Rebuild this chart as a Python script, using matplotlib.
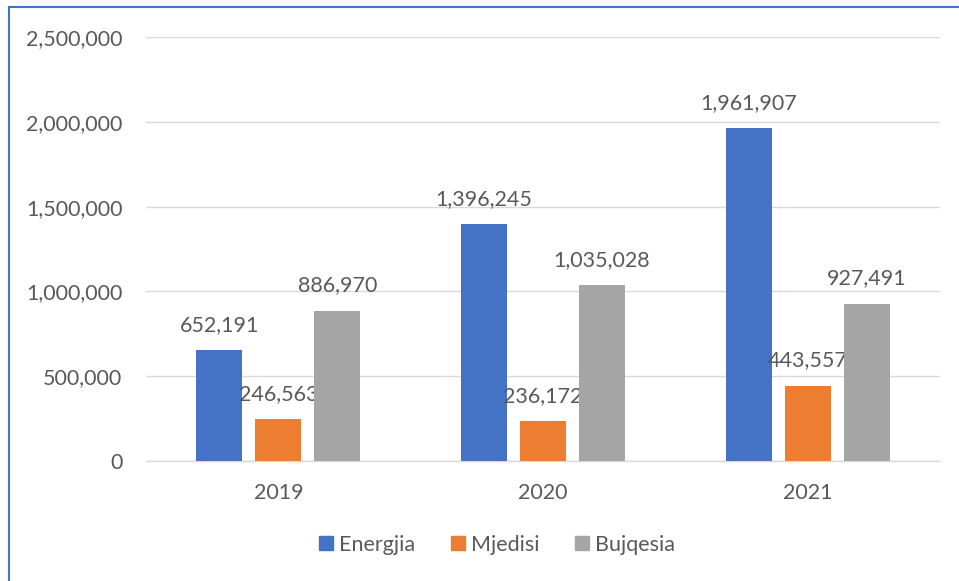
import matplotlib.pyplot as plt
import matplotlib.ticker as mticker
from matplotlib.lines import Line2D
import numpy as np

years = ["2019", "2020", "2021"]
series_names = ["Energjia", "Mjedisi", "Bujqesia"]
energjia = [652191, 1396245, 1961907]
mjedisi = [246563, 236172, 443557]
bujqesia = [886970, 1035028, 927491]
colors = ["#4472C4", "#ED7D31", "#A5A5A5"]

plt.rcParams['font.family'] = ['Lato', 'DejaVu Sans']
text_color = "#595959"

fig = plt.figure(figsize=(9.59, 5.81), dpi=100)
ax = fig.add_axes([146 / 959, 1 - 461 / 581, (940 - 146) / 959, (461 - 37) / 581])

x = np.arange(len(years))
width = 0.174
step = 0.223
for i, (name, vals) in enumerate(zip(series_names, [energjia, mjedisi, bujqesia])):
    pos = x + (i - 1) * step
    bars = ax.bar(pos, vals, width, color=colors[i], label=name, zorder=3)
    for b, v in zip(bars, vals):
        ax.annotate(f"{v:,}", (b.get_x() + b.get_width() / 2, v),
                    xytext=(0, 11), textcoords="offset points",
                    ha="center", va="bottom", fontsize=15.5, color=text_color)

ax.set_xlim(-0.5, 2.5)
ax.set_ylim(0, 2500000)
ax.set_yticks(np.arange(0, 2500001, 500000))
ax.yaxis.set_major_formatter(mticker.FuncFormatter(lambda v, p: f"{int(v):,}"))
ax.set_xticks(x)
ax.set_xticklabels(years)
ax.grid(axis="y", color="#D9D9D9", linewidth=1, zorder=0)
for s in ["top", "right", "left"]:
    ax.spines[s].set_visible(False)
ax.spines["bottom"].set_color("#D9D9D9")
ax.spines["bottom"].set_linewidth(1)
ax.tick_params(axis="both", length=0, labelsize=15.5, labelcolor=text_color)
ax.tick_params(axis="y", pad=17)
ax.tick_params(axis="x", pad=16)

handles = [Line2D([], [], marker="s", linestyle="none", markersize=10,
                  markerfacecolor=c, markeredgecolor=c) for c in colors]
fig.legend(handles, series_names, loc="center", bbox_to_anchor=(495 / 959, 1 - 545 / 581),
           ncol=3, frameon=False, fontsize=15.5, labelcolor=text_color,
           handletextpad=0.1, columnspacing=1.5, handlelength=1.0)

# chart frame (left and top edges visible)
fig.add_artist(Line2D([8.5 / 959, 8.5 / 959], [0, 1 - 7 / 581], color="#4472C4", linewidth=1.5))
fig.add_artist(Line2D([8.5 / 959, 1], [1 - 7 / 581, 1 - 7 / 581], color="#4472C4", linewidth=1.5))

fig.savefig("out.png", dpi=100)
